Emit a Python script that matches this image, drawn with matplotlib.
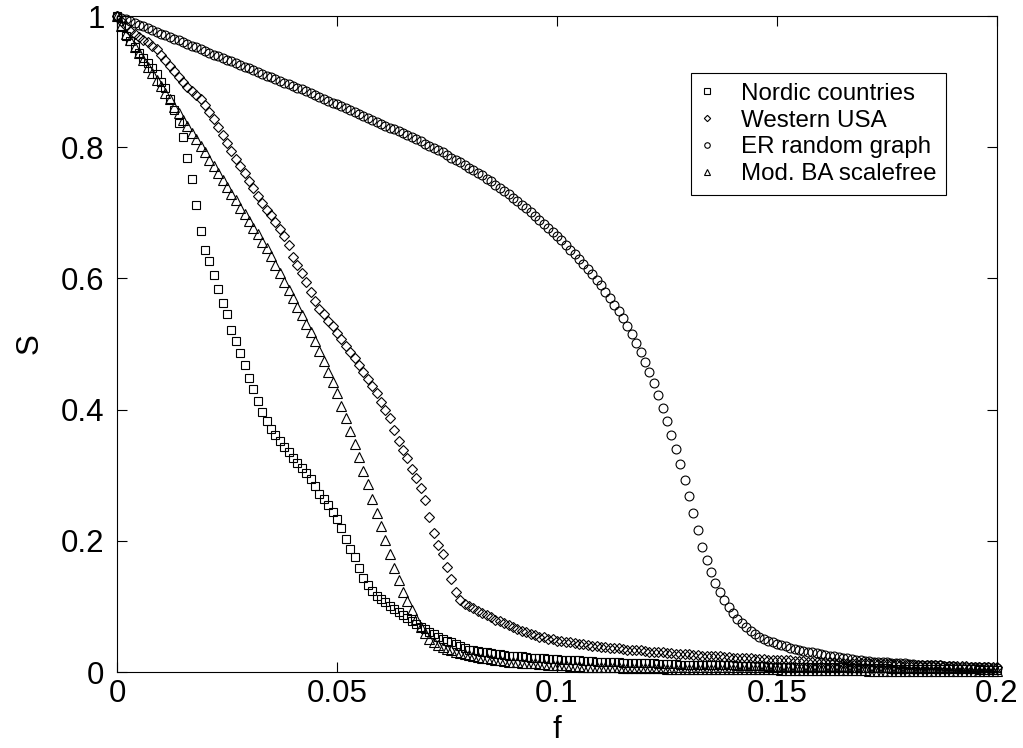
import numpy as np
import matplotlib
matplotlib.use("Agg")
import matplotlib.pyplot as plt

# fraction of removed nodes f is sampled every 0.001 from 0 to 0.2
F_STEP = 0.001

nordic = [
    1.000, 0.985, 0.970, 0.962, 0.952, 0.944, 0.936, 0.929, 0.921, 0.912,
    0.900, 0.890, 0.874, 0.856, 0.837, 0.815, 0.784, 0.752, 0.712, 0.672,
    0.643, 0.626, 0.605, 0.584, 0.563, 0.546, 0.521, 0.505, 0.486, 0.468,
    0.448, 0.431, 0.413, 0.396, 0.383, 0.371, 0.361, 0.352, 0.343, 0.335,
    0.326, 0.318, 0.311, 0.303, 0.294, 0.283, 0.271, 0.264, 0.254, 0.244,
    0.233, 0.219, 0.203, 0.188, 0.175, 0.159, 0.144, 0.132, 0.124, 0.116,
    0.112, 0.106, 0.101, 0.096, 0.092, 0.087, 0.082, 0.077, 0.073, 0.069,
    0.065, 0.061, 0.058, 0.054, 0.051, 0.048, 0.045, 0.042, 0.039, 0.036,
    0.034, 0.033, 0.032, 0.031, 0.030, 0.029, 0.028, 0.027, 0.026, 0.025,
    0.025, 0.024, 0.024, 0.023, 0.022, 0.022, 0.021, 0.021, 0.020, 0.020,
    0.020, 0.019, 0.019, 0.018, 0.018, 0.018, 0.017, 0.017, 0.017, 0.016,
    0.016, 0.016, 0.015, 0.015, 0.015, 0.014, 0.014, 0.014, 0.014, 0.013,
    0.013, 0.013, 0.013, 0.012, 0.012, 0.012, 0.012, 0.012, 0.011, 0.011,
    0.011, 0.011, 0.011, 0.010, 0.010, 0.010, 0.010, 0.010, 0.010, 0.010,
    0.010, 0.009, 0.009, 0.009, 0.009, 0.009, 0.009, 0.009, 0.008, 0.008,
    0.008, 0.008, 0.008, 0.008, 0.008, 0.008, 0.007, 0.007, 0.007, 0.007,
    0.007, 0.007, 0.007, 0.007, 0.007, 0.007, 0.006, 0.006, 0.006, 0.006,
    0.006, 0.006, 0.006, 0.006, 0.006, 0.006, 0.005, 0.005, 0.005, 0.005,
    0.005, 0.005, 0.005, 0.005, 0.005, 0.005, 0.004, 0.004, 0.004, 0.004,
    0.004, 0.004, 0.004, 0.004, 0.004, 0.004, 0.003, 0.003, 0.003, 0.003,
    0.003,
]

western_usa = [
    1.000, 0.992, 0.984, 0.977, 0.972, 0.968, 0.964, 0.960, 0.955, 0.949,
    0.941, 0.933, 0.924, 0.916, 0.907, 0.899, 0.892, 0.886, 0.880, 0.873,
    0.864, 0.853, 0.843, 0.831, 0.819, 0.806, 0.794, 0.782, 0.771, 0.760,
    0.749, 0.738, 0.726, 0.715, 0.704, 0.696, 0.686, 0.676, 0.664, 0.651,
    0.632, 0.620, 0.608, 0.594, 0.580, 0.565, 0.553, 0.545, 0.535, 0.527,
    0.517, 0.507, 0.497, 0.488, 0.479, 0.468, 0.457, 0.446, 0.436, 0.425,
    0.412, 0.400, 0.387, 0.369, 0.352, 0.338, 0.326, 0.310, 0.296, 0.280,
    0.262, 0.237, 0.212, 0.194, 0.180, 0.160, 0.142, 0.122, 0.110, 0.103,
    0.100, 0.097, 0.093, 0.090, 0.087, 0.084, 0.080, 0.077, 0.074, 0.071,
    0.068, 0.066, 0.063, 0.061, 0.058, 0.056, 0.054, 0.053, 0.051, 0.050,
    0.048, 0.047, 0.046, 0.045, 0.044, 0.043, 0.042, 0.041, 0.040, 0.039,
    0.038, 0.038, 0.037, 0.036, 0.036, 0.035, 0.034, 0.034, 0.033, 0.033,
    0.032, 0.031, 0.031, 0.030, 0.030, 0.029, 0.029, 0.028, 0.028, 0.027,
    0.027, 0.026, 0.026, 0.025, 0.025, 0.024, 0.024, 0.024, 0.023, 0.023,
    0.022, 0.022, 0.022, 0.021, 0.021, 0.020, 0.020, 0.020, 0.019, 0.019,
    0.019, 0.018, 0.018, 0.018, 0.017, 0.017, 0.017, 0.016, 0.016, 0.016,
    0.016, 0.015, 0.015, 0.015, 0.015, 0.014, 0.014, 0.014, 0.014, 0.013,
    0.013, 0.013, 0.013, 0.012, 0.012, 0.012, 0.012, 0.012, 0.011, 0.011,
    0.011, 0.011, 0.011, 0.010, 0.010, 0.010, 0.010, 0.010, 0.009, 0.009,
    0.009, 0.009, 0.009, 0.009, 0.008, 0.008, 0.008, 0.008, 0.008, 0.007,
    0.007,
]

er_random = [
    1.000, 0.997, 0.995, 0.992, 0.989, 0.987, 0.984, 0.981, 0.979, 0.976,
    0.973, 0.971, 0.968, 0.965, 0.963, 0.960, 0.957, 0.955, 0.952, 0.949,
    0.947, 0.944, 0.941, 0.939, 0.936, 0.933, 0.931, 0.928, 0.925, 0.923,
    0.920, 0.917, 0.915, 0.912, 0.909, 0.907, 0.904, 0.901, 0.898, 0.896,
    0.893, 0.890, 0.888, 0.885, 0.882, 0.879, 0.877, 0.874, 0.871, 0.868,
    0.866, 0.863, 0.860, 0.857, 0.854, 0.851, 0.848, 0.845, 0.842, 0.839,
    0.836, 0.833, 0.830, 0.827, 0.824, 0.821, 0.818, 0.815, 0.812, 0.809,
    0.805, 0.802, 0.799, 0.795, 0.792, 0.788, 0.784, 0.781, 0.777, 0.773,
    0.769, 0.765, 0.761, 0.757, 0.752, 0.748, 0.743, 0.738, 0.733, 0.728,
    0.723, 0.718, 0.712, 0.707, 0.701, 0.695, 0.689, 0.683, 0.677, 0.671,
    0.665, 0.658, 0.651, 0.644, 0.637, 0.630, 0.622, 0.614, 0.606, 0.598,
    0.590, 0.580, 0.570, 0.560, 0.550, 0.539, 0.527, 0.515, 0.502, 0.488,
    0.473, 0.457, 0.440, 0.422, 0.403, 0.383, 0.362, 0.340, 0.317, 0.293,
    0.268, 0.243, 0.216, 0.191, 0.170, 0.152, 0.136, 0.122, 0.110, 0.099,
    0.090, 0.081, 0.074, 0.068, 0.063, 0.058, 0.054, 0.051, 0.048, 0.045,
    0.043, 0.041, 0.039, 0.037, 0.035, 0.034, 0.032, 0.031, 0.030, 0.029,
    0.027, 0.026, 0.025, 0.024, 0.023, 0.022, 0.021, 0.020, 0.019, 0.018,
    0.017, 0.017, 0.016, 0.016, 0.015, 0.015, 0.014, 0.014, 0.013, 0.013,
    0.012, 0.012, 0.011, 0.011, 0.011, 0.010, 0.010, 0.010, 0.009, 0.009,
    0.009, 0.008, 0.008, 0.008, 0.008, 0.007, 0.007, 0.007, 0.007, 0.006,
    0.006,
]

ba_scalefree = [
    1.000, 0.984, 0.973, 0.963, 0.953, 0.943, 0.933, 0.923, 0.913, 0.903,
    0.893, 0.883, 0.873, 0.862, 0.852, 0.842, 0.832, 0.822, 0.812, 0.802,
    0.792, 0.781, 0.771, 0.760, 0.750, 0.740, 0.729, 0.719, 0.708, 0.698,
    0.688, 0.677, 0.667, 0.656, 0.646, 0.634, 0.621, 0.608, 0.595, 0.582,
    0.570, 0.557, 0.544, 0.531, 0.518, 0.504, 0.489, 0.474, 0.458, 0.442,
    0.425, 0.406, 0.387, 0.367, 0.347, 0.327, 0.307, 0.286, 0.264, 0.243,
    0.222, 0.201, 0.180, 0.159, 0.140, 0.122, 0.108, 0.095, 0.081, 0.068,
    0.059, 0.051, 0.045, 0.041, 0.038, 0.035, 0.033, 0.031, 0.029, 0.027,
    0.026, 0.024, 0.023, 0.022, 0.021, 0.020, 0.019, 0.018, 0.017, 0.016,
    0.015, 0.015, 0.014, 0.014, 0.013, 0.013, 0.012, 0.012, 0.011, 0.011,
    0.010, 0.010, 0.010, 0.009, 0.009, 0.009, 0.008, 0.008, 0.008, 0.008,
    0.007, 0.007, 0.007, 0.007, 0.007, 0.006, 0.006, 0.006, 0.006, 0.006,
    0.006, 0.006, 0.006, 0.006, 0.006, 0.005, 0.005, 0.005, 0.005, 0.005,
    0.005, 0.005, 0.005, 0.005, 0.005, 0.004, 0.004, 0.004, 0.004, 0.004,
    0.004, 0.004, 0.004, 0.004, 0.004, 0.004, 0.004, 0.004, 0.004, 0.004,
    0.004, 0.003, 0.003, 0.003, 0.003, 0.003, 0.003, 0.003, 0.003, 0.003,
    0.003, 0.003, 0.003, 0.003, 0.003, 0.003, 0.003, 0.003, 0.003, 0.003,
    0.003, 0.002, 0.002, 0.002, 0.002, 0.002, 0.002, 0.002, 0.002, 0.002,
    0.002, 0.002, 0.002, 0.002, 0.002, 0.002, 0.002, 0.002, 0.002, 0.002,
    0.002, 0.001, 0.001, 0.001, 0.001, 0.001, 0.001, 0.001, 0.001, 0.001,
    0.001,
]

labels = ["Nordic countries", "Western USA", "ER random graph", "Mod. BA scalefree"]
markers = ["s", "D", "o", "^"]
marker_sizes = [6.0, 5.2, 6.4, 6.8]

x_ticks = [0, 0.05, 0.1, 0.15, 0.2]
x_tick_labels = ["0", "0.05", "0.1", "0.15", "0.2"]
y_ticks = [0, 0.2, 0.4, 0.6, 0.8, 1]
y_tick_labels = ["0", "0.2", "0.4", "0.6", "0.8", "1"]

plt.rcParams["font.family"] = ["Liberation Sans", "DejaVu Sans"]

fig = plt.figure(figsize=(10.23, 7.48), dpi=100)
ax = fig.add_axes([117 / 1023, 76 / 748, 880 / 1023, 656 / 748])

for values, marker, size, label in zip(
    [nordic, western_usa, er_random, ba_scalefree], markers, marker_sizes, labels
):
    f = np.arange(len(values)) * F_STEP
    ax.plot(
        f, values, linestyle="none", marker=marker, markersize=size,
        markerfacecolor="none", markeredgecolor="black", markeredgewidth=0.8,
        label=label, clip_on=False,
    )

ax.set_xlim(0, 0.2)
ax.set_ylim(0, 1)
ax.set_xticks(x_ticks, x_tick_labels)
ax.set_yticks(y_ticks, y_tick_labels)
ax.tick_params(direction="in", top=True, right=True, length=7, width=0.8,
               labelsize=22.5, pad=5)
ax.tick_params(axis="y", pad=9)
for spine in ax.spines.values():
    spine.set_linewidth(0.8)
ax.set_xlabel("f", fontsize=22.5, labelpad=4)
ax.set_ylabel("S", fontsize=22.5, labelpad=12)

legend = ax.legend(
    loc="upper right", bbox_to_anchor=(0.942, 0.913), borderaxespad=0,
    fontsize=17.4, numpoints=1, markerscale=0.62, handlelength=0.5,
    handletextpad=1.15, borderpad=0.4, labelspacing=0.2,
    fancybox=False, framealpha=1, edgecolor="black",
)
legend.get_frame().set_linewidth(0.8)

fig.savefig("out.png", dpi=100)
